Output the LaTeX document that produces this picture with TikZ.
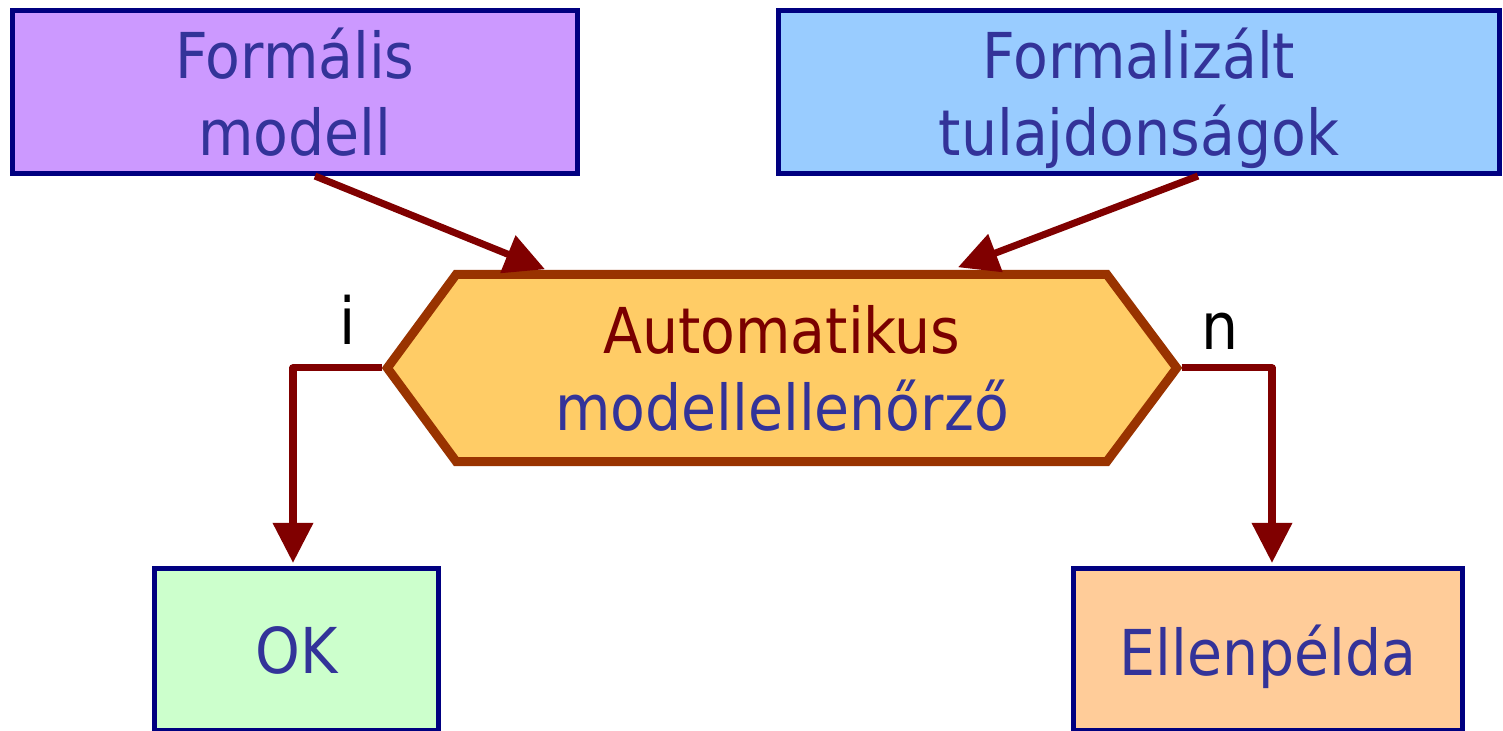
\documentclass[tikz,border=0pt]{standalone}
\usepackage{fontspec}
\setmainfont{DejaVu Sans Condensed}
\usetikzlibrary{arrows.meta,backgrounds}

\definecolor{boxborder}{HTML}{000080}
\definecolor{boxtext}{HTML}{333399}
\definecolor{autored}{HTML}{7A0000}
\definecolor{arrowred}{HTML}{800000}
\definecolor{hexborder}{HTML}{993300}
\definecolor{hexfill}{HTML}{FFCC66}
\definecolor{purplefill}{HTML}{CC99FF}
\definecolor{bluefill}{HTML}{99CCFF}
\definecolor{greenfill}{HTML}{CCFFCC}
\definecolor{orangefill}{HTML}{FFCC99}

\tikzset{
  box/.style={rectangle, draw=boxborder, line width=1.45pt, inner sep=0pt,
    text=boxtext, align=center, text depth=0pt,
    font=\fontsize{18pt}{21.9pt}\selectfont},
  hexnode/.style={rectangle, draw=none, inner sep=0pt, text=boxtext,
    align=center, minimum width=7.88cm, minimum height=1.86cm,
    font=\fontsize{18pt}{21.9pt}\selectfont},
  hexedge/.style={draw=hexborder, fill=hexfill, line width=2.55pt, line join=miter},
  flow/.style={draw=arrowred, line width=2pt, line join=round,
    -{Triangle[length=11.4pt,width=11.1pt]}},
  branch/.style={font=\fontsize{18.5pt}{22pt}\selectfont, text=black, inner sep=0pt}
}

\begin{document}
\begin{tikzpicture}
\useasboundingbox (0,0) rectangle (15.03,7.31);

% input boxes
\node[box, fill=purplefill, minimum width=5.65cm, minimum height=1.63cm]
  (fm) at (2.95,6.39) {Formális\\modell};
\node[box, fill=bluefill, minimum width=7.21cm, minimum height=1.63cm]
  (fz) at (11.39,6.39) {Formalizált\\tulajdonságok};

% model checker
\node[hexnode] (hex) at (7.82,3.63) {{\color{autored}Automatikus}\\modellellenőrző};
\begin{scope}[on background layer]
  \path[hexedge] (hex.west) -- ([xshift=0.69cm]hex.north west)
    -- ([xshift=-0.70cm]hex.north east) -- (hex.east)
    -- ([xshift=-0.70cm]hex.south east) -- ([xshift=0.69cm]hex.south west) -- cycle;
\end{scope}

% results
\node[box, fill=greenfill, minimum width=2.84cm, minimum height=1.625cm]
  (ok) at (2.965,0.8125) {OK};
\node[box, fill=orangefill, minimum width=3.89cm, minimum height=1.625cm]
  (ce) at (12.68,0.8125) {Ellenpélda};

% connectors
\draw[flow] ([xshift=0.20cm]fm.south) -- ([xshift=-2.37cm,yshift=0.05cm]hex.north);
\draw[flow] ([xshift=0.59cm]fz.south) -- ([xshift=1.76cm,yshift=0.07cm]hex.north);
\draw[flow] ([xshift=-0.05cm]hex.west) -| ([xshift=-0.035cm,yshift=0.03cm]ok.north);
\draw[flow] ([xshift=0.05cm]hex.east) -| ([xshift=0.04cm,yshift=0.03cm]ce.north);

% branch labels
\node[branch, anchor=base] (yes) at (3.48,3.86) {i};
\node[branch, anchor=base] (no) at (12.20,3.81) {n};
\end{tikzpicture}
\end{document}
